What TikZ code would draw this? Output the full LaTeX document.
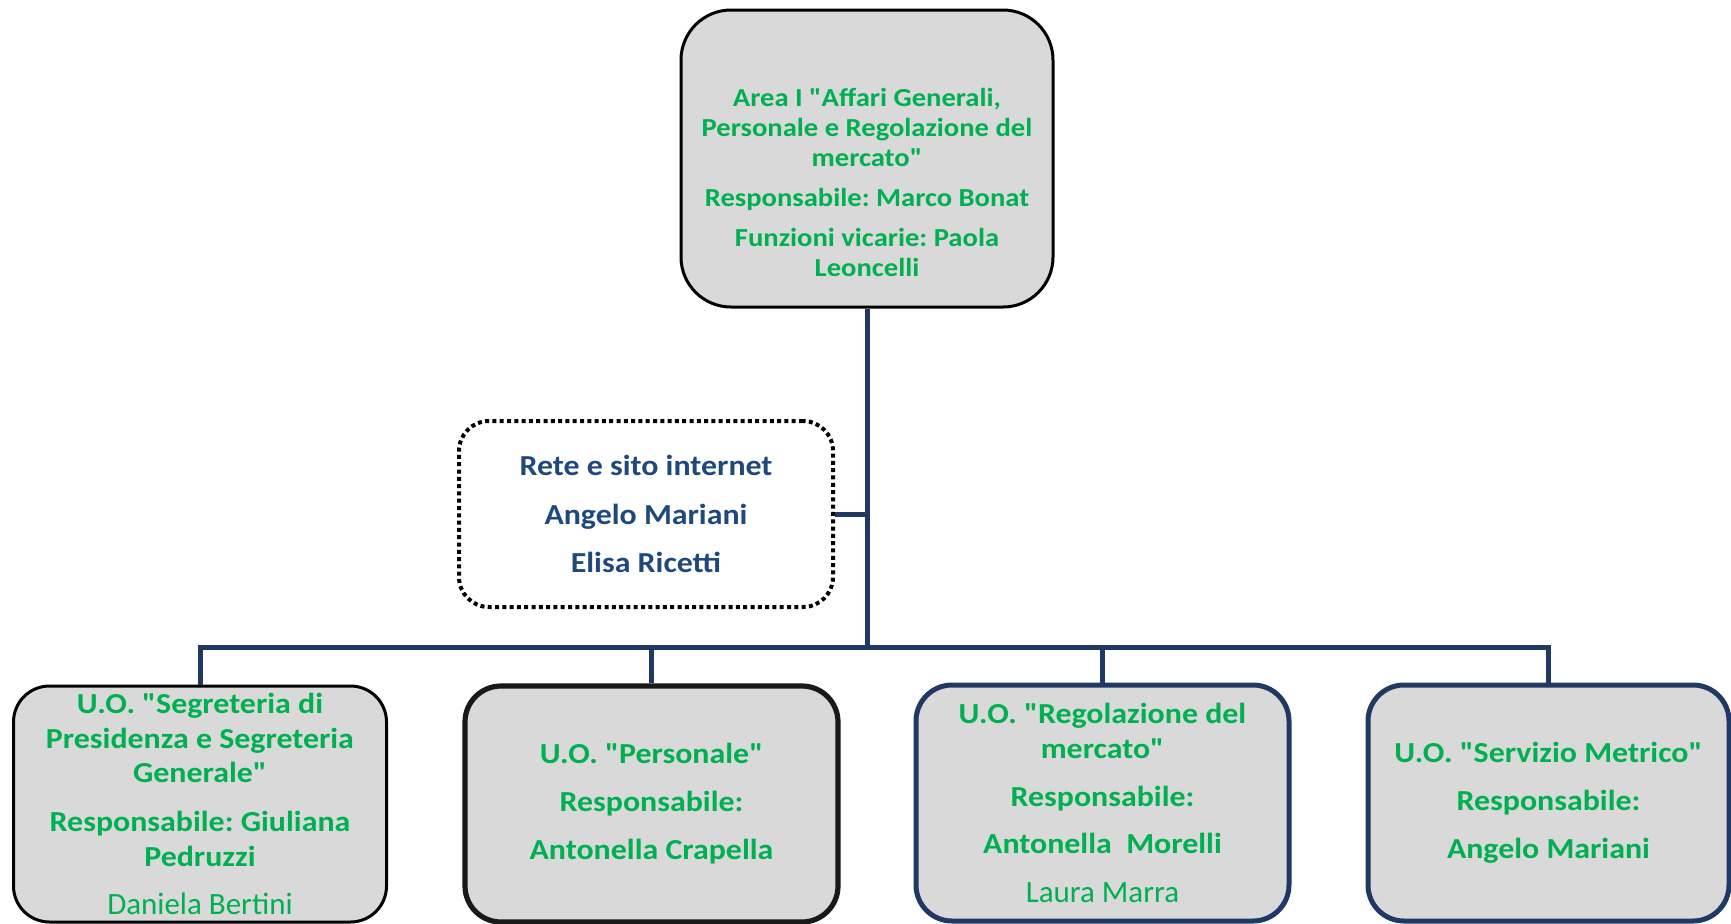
\documentclass[tikz,border=0pt]{standalone}
\usepackage{fontspec}
\setmainfont{Carlito}[Ligatures=TeXOff,BoldFeatures={FakeStretch=1.1}]
\definecolor{verde}{HTML}{00B050}
\definecolor{grigio}{HTML}{D9D9D9}
\definecolor{navy}{HTML}{1F3864}
\definecolor{blutxt}{HTML}{1F497D}
\frenchspacing
\begin{document}
\begin{tikzpicture}[x=0.5pt,y=-0.5pt,
  box/.style={draw,fill=grigio,rounded corners=18pt,line width=1.5pt,
    minimum width=186.5pt,minimum height=118pt,inner sep=0pt,align=center,
    text=verde,font={\bfseries\fontsize{14.5}{17.25}\selectfont}},
  link/.style={draw=navy,line width=2.5pt}]
\useasboundingbox (0,0) rectangle (1731,923);

% area
\node[box,rounded corners=25pt,minimum width=186pt,minimum height=148.5pt] (area) at (867,158.5) {};
\node[align=center,text=verde,font={\bfseries\fontsize{13}{15}\selectfont}] (areatxt)
  at ([yshift=-12pt]area.center) {Area I "Affari Generali,\\ Personale e Regolazione del\\ mercato"\\[5pt]
  Responsabile: Marco Bonat\\[5pt] Funzioni vicarie: Paola\\ Leoncelli};

% staff
\node[box,fill=none,draw=black,line width=2pt,dash pattern=on 2pt off 1.65pt,rounded corners=15pt,
  minimum width=187pt,minimum height=93pt,text=blutxt,font={\bfseries\fontsize{14.5}{18}\selectfont}]
  (rete) at (646,514) {Rete e sito internet\\[6.25pt] Angelo Mariani\\[6.25pt] Elisa Ricetti};

% unita' operative
\node[box] (uo1) at (200,804) {U.O. "Segreteria di\\ Presidenza e Segreteria\\ Generale"\\[7.25pt]
  Responsabile: Giuliana\\ Pedruzzi\\[6.75pt] {\mdseries\fontsize{15.5}{18}\selectfont Daniela Bertini}};
\node[box,line width=2.6pt,draw=black!90] (uo2) at (651.5,804) {U.O. "Personale"\\[6.75pt]
  Responsabile:\\[6.75pt] Antonella Crapella};
\node[box,line width=2.5pt,draw=navy] (uo3) at (1102.5,803) {U.O. "Regolazione del\\ mercato"\\[6.75pt]
  Responsabile:\\[6.25pt] Antonella\ \ Morelli\\[7.5pt] {\mdseries\fontsize{15.5}{18}\selectfont Laura Marra}};
\node[box,line width=2.5pt,draw=navy,minimum width=180.5pt] (uo4) at (1548.5,803) {U.O. "Servizio Metrico"\\[6.75pt]
  Responsabile:\\[6.75pt] Angelo Mariani};

\coordinate (bus) at (867,647);
\draw[link] (area.south) -- (bus);
\draw[link] (rete.east) -- (rete.east -| bus);
\draw[link] (uo1.north) |- (bus) -| (uo4.north);
\draw[link] (uo2.north) -- (uo2.north |- bus);
\draw[link] (uo3.north) -- (uo3.north |- bus);
\end{tikzpicture}
\end{document}
